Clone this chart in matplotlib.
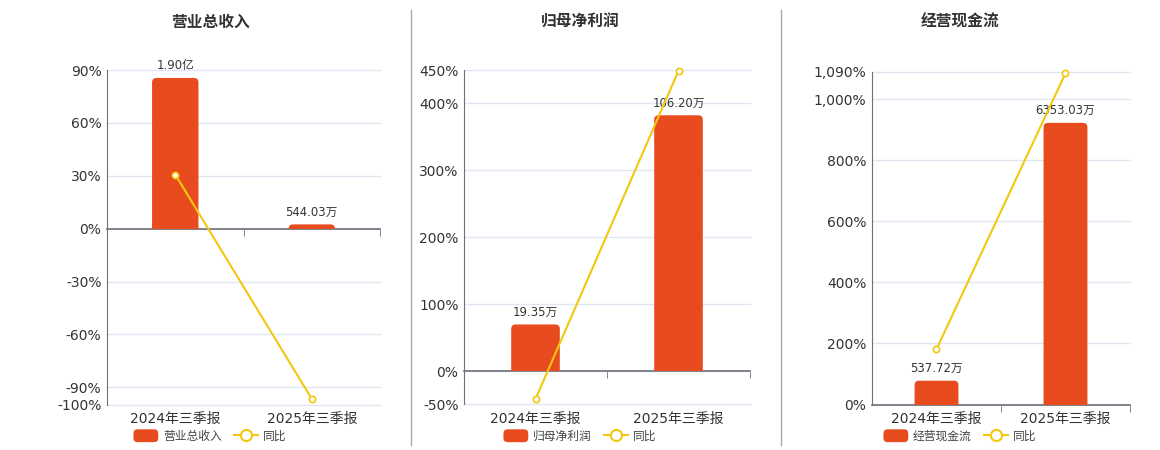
import numpy as np
import matplotlib
matplotlib.use("Agg")
import matplotlib.pyplot as plt
from matplotlib.patches import Patch, FancyBboxPatch, Rectangle
from matplotlib.lines import Line2D
from matplotlib.legend_handler import HandlerPatch
from matplotlib.ticker import FixedLocator, FuncFormatter

plt.rcParams['font.family'] = ['DejaVu Sans', 'Noto Sans CJK SC']

# ---------------- data ----------------
categories = ["2024年三季报", "2025年三季报"]

titles = ["营业总收入", "归母净利润", "经营现金流"]

revenue_vals = [19000.0, 544.03]          # 万
revenue_labels = ["1.90亿", "544.03万"]
revenue_yoy = [30.7, -96.5]               # %

profit_vals = [19.35, 106.20]             # 万
profit_labels = ["19.35万", "106.20万"]
profit_yoy = [-41.9, 448.8]

cash_vals = [537.72, 6353.03]             # 万
cash_labels = ["537.72万", "6353.03万"]
cash_yoy = [181.5, 1086.0]

pct_ticks = [
    [90, 60, 30, 0, -30, -60, -90, -100],
    [450, 400, 300, 200, 100, 0, -50],
    [1090, 1000, 800, 600, 400, 200, 0],
]
bar_axis_max = [20000, 125, 7500]

yoy_label = "同比"

# ---------------- style ----------------
BAR_C = "#E84C1E"
LINE_C = "#F2C80F"
TXT_C = "#333333"
AX_C = "#6E7079"
GRID_C = "#E0E6F1"
RADIUS_PX = 4.5

W, H = 1160, 450
fig = plt.figure(figsize=(W / 100, H / 100), dpi=100)

# axes boxes in pixels: left, top, right, bottom
boxes = [
    (107, 70, 380, 405),
    (464, 70, 750, 404.5),
    (872, 72, 1130, 404.5),
]
title_x = [210, 580, 960]

series = [
    (revenue_vals, revenue_labels, revenue_yoy),
    (profit_vals, profit_labels, profit_yoy),
    (cash_vals, cash_labels, cash_yoy),
]


class RoundHandler(HandlerPatch):
    def create_artists(self, legend, orig_handle, xdescent, ydescent, width,
                       height, fontsize, trans):
        p = FancyBboxPatch((-xdescent, -ydescent), width, height,
                           boxstyle="round,pad=0,rounding_size=3",
                           facecolor=orig_handle.get_facecolor(),
                           edgecolor='none', transform=trans)
        return [p]


x = np.arange(len(categories))

for i, (vals, labels, yoy) in enumerate(series):
    l, t, r, b = boxes[i]
    rect = [l / W, 1 - b / H, (r - l) / W, (b - t) / H]
    ax = fig.add_axes(rect)
    ticks = pct_ticks[i]
    lo, hi = min(ticks), max(ticks)
    ax.set_ylim(lo, hi)
    ax.set_xlim(-0.5, len(categories) - 0.5)

    # grid & ticks
    ax.yaxis.set_major_locator(FixedLocator(ticks))
    ax.yaxis.set_major_formatter(FuncFormatter(lambda v, p: f"{v:,.0f}%"))
    ax.tick_params(axis='y', length=0, pad=4, labelsize=10, labelcolor=TXT_C)
    ax.grid(axis='y', color=GRID_C, linewidth=1)
    for gl in ax.get_ygridlines():
        gl.set_clip_on(False)
    ax.set_axisbelow(True)
    for s in ['top', 'right']:
        ax.spines[s].set_visible(False)
    ax.spines['left'].set_color(AX_C)
    ax.spines['bottom'].set_color(AX_C)
    ax.spines['bottom'].set_position(('data', 0))
    ax.spines['bottom'].set_linewidth(1.2)
    ax.set_xticks([])
    ax.set_xticks(x + 0.5, minor=True)
    ax.tick_params(axis='x', which='minor', length=5, color=AX_C, direction='out')
    ax.tick_params(axis='x', which='minor', labelbottom=False)

    sec = ax.secondary_xaxis('bottom')
    sec.set_xticks(x, categories)
    sec.tick_params(length=0, pad=5, labelsize=10, labelcolor=TXT_C)
    sec.spines['bottom'].set_visible(False)

    # bars on twin axis
    axb = ax.twinx()
    bm = bar_axis_max[i]
    y0, y1 = lo / hi * bm, bm
    axb.set_ylim(y0, y1)
    axb.set_axis_off()
    bars = axb.bar(x, vals, width=0.34, color=BAR_C, zorder=2)

    # rounded top corners
    dx_px = (len(categories)) / (r - l)
    dy_px = (y1 - y0) / (b - t)
    rx = RADIUS_PX * dx_px
    aspect = dy_px / dx_px
    clip = Rectangle((-0.5, 0), len(categories), y1 - 0, transform=axb.transData)
    for bar in bars:
        bx, bw, bh = bar.get_x(), bar.get_width(), bar.get_height()
        ext = RADIUS_PX * dy_px
        fb = FancyBboxPatch((bx, -ext), bw, bh + ext,
                            boxstyle=f"round,pad=0,rounding_size={rx}",
                            mutation_aspect=aspect, facecolor=BAR_C,
                            edgecolor='none', zorder=2)
        axb.add_patch(fb)
        fb.set_clip_path(clip)
        bar.set_visible(False)

    for bar, lab in zip(bars, labels):
        axb.annotate(lab, (bar.get_x() + bar.get_width() / 2, bar.get_height()),
                     xytext=(0, 4), textcoords='offset points',
                     ha='center', va='bottom', fontsize=8.4, color=TXT_C)

    # line on its own twin axis
    axl = ax.twinx()
    axl.set_ylim(lo, hi)
    axl.set_axis_off()
    axl.plot(x, yoy, color=LINE_C, linewidth=1.5, marker='o', markersize=4.5,
             markerfacecolor='white', markeredgecolor=LINE_C, markeredgewidth=1.2,
             clip_on=False)

    # title
    fig.text(title_x[i] / W, 1 - 22 / H, titles[i], ha='center', va='center',
             fontsize=11.3, fontweight='bold', color=TXT_C)

    # legend
    handles = [Patch(facecolor=BAR_C, edgecolor=BAR_C),
               Line2D([0], [0], color=LINE_C, linewidth=1.5, marker='o', markersize=8,
                      markerfacecolor='white', markeredgecolor=LINE_C, markeredgewidth=1.5)]
    fig.legend(handles, [titles[i], yoy_label], loc='center',
               bbox_to_anchor=(title_x[i] / W, 1 - 436 / H), ncol=2, frameon=False,
               fontsize=8.5, handlelength=2.1, handleheight=1.3, handletextpad=0.4,
               columnspacing=1.0, labelcolor='#444444',
               handler_map={Patch: RoundHandler()})

# separators
for sx in [410.5, 780.5]:
    fig.add_artist(Line2D([sx / W, sx / W], [1 - 10 / H, 1 - 445 / H],
                          transform=fig.transFigure, color='#AAAAAA', linewidth=1))

fig.savefig("out.png", dpi=100, facecolor='white')
